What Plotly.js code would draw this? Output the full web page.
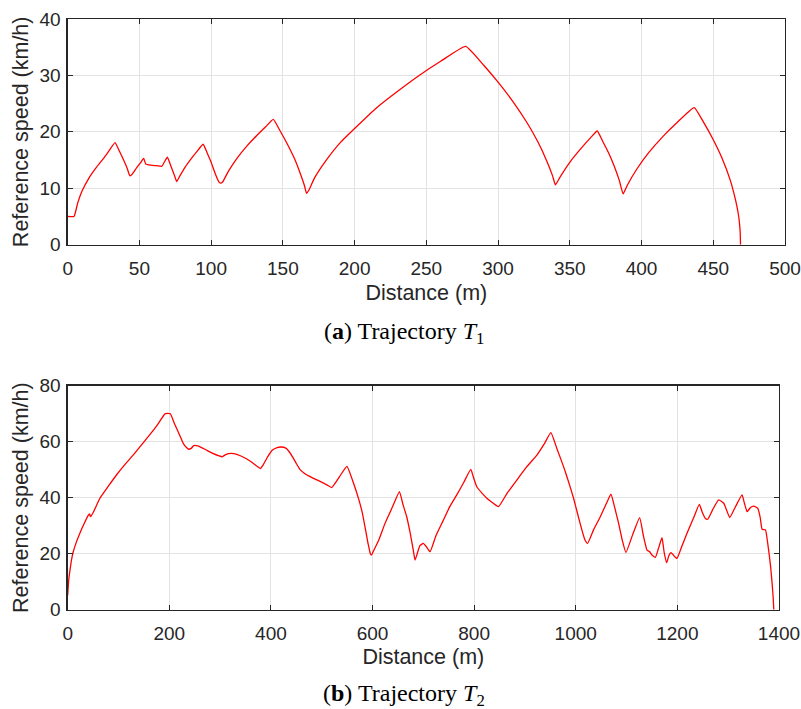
<!DOCTYPE html>
<html><head><meta charset="utf-8">
<script src="https://cdn.plot.ly/plotly-3.0.1.min.js"></script>
<style>html,body{margin:0;padding:0;background:#fff;}#chart{width:801px;height:709px;}</style>
</head><body><div id="chart"></div>
<script>
// Trajectory T1
const t1Distance = [0, 4.4, 7, 10, 15, 20, 25, 29, 33, 36, 39, 41.5, 42.8, 43.5, 45, 48, 51, 53, 54.4, 58, 62, 65.6, 67.5, 69.5, 72, 74.5, 76, 78, 82, 86, 90, 94.4, 97, 100, 103, 105.5, 106.7, 108, 112, 118, 125, 132, 138, 143.3, 148, 153, 158, 162, 165, 166.5, 168, 172, 180, 190, 200, 215, 230, 245, 260, 277.4, 290, 300, 310, 320, 328, 334, 338, 340, 343, 350, 358, 365, 369.1, 373, 377, 381, 384.5, 387.2, 390, 397, 405, 415, 425, 436.7, 443, 450, 456, 461.9, 464.5, 466.5, 467.8, 468.5, 468.8, 469];
const t1Speed = [5, 5, 7.4, 9.5, 11.9, 13.7, 15.3, 16.7, 18.08, 16.6, 15.0, 13.5, 12.5, 12.2, 12.5, 13.6, 14.6, 15.3, 14.3, 14.1, 14.0, 13.9, 14.7, 15.5, 13.9, 12.2, 11.2, 12.1, 13.8, 15.2, 16.5, 17.8, 16.4, 14.6, 12.5, 11.1, 10.9, 11.1, 13.0, 15.3, 17.5, 19.4, 20.9, 22.2, 20.2, 17.9, 15.3, 12.7, 10.5, 9.1, 9.6, 11.8, 14.9, 18.1, 20.6, 24.2, 27.2, 30.0, 32.5, 35.15, 31.8, 28.8, 25.5, 21.7, 18.1, 14.8, 12.2, 10.6, 11.9, 14.6, 17.1, 19.1, 20.15, 18.3, 16.3, 13.9, 11.4, 9.0, 10.5, 13.5, 16.3, 19.2, 21.7, 24.3, 21.8, 18.6, 15.4, 11.4, 9.0, 6.8, 4.9, 3.2, 2.0, 0];

// Trajectory T2
const t2Distance = [0, 2, 4.6, 8, 11, 16, 24, 32, 40.5, 43, 45, 50, 63.4, 80, 96, 112, 128.8, 145, 161.4, 177, 192, 202, 210, 220, 228, 233.3, 238, 243, 248, 256, 270, 285.6, 298, 304, 312, 321.6, 332.7, 351, 365, 379, 385, 395, 403, 412, 419.6, 429.4, 436, 442.5, 450, 457.5, 465, 475, 494.8, 510, 519.6, 535, 549.7, 562, 573.2, 580, 586.3, 591, 596, 598, 602, 612.4, 625, 640, 653, 660, 667.3, 674, 680, 683.7, 688, 693, 700, 706, 713.3, 725, 739.6, 752, 765.8, 780, 793.4, 800, 805.3, 815, 825, 837, 848, 865, 884, 903, 923.5, 938, 951, 963, 976, 986, 995.7, 1004, 1012, 1018, 1023.3, 1035, 1048.3, 1060, 1069.3, 1076, 1084.4, 1092, 1098.8, 1112, 1125.8, 1133, 1140.2, 1145.5, 1150, 1156.7, 1163, 1169.8, 1174, 1179, 1183, 1187.5, 1193, 1199.3, 1210, 1219, 1232, 1243.3, 1249, 1255.2, 1259.8, 1270, 1281.4, 1291.3, 1297, 1303.1, 1315, 1327.4, 1332, 1337.3, 1344, 1350.4, 1358.3, 1363, 1366.8, 1373.4, 1378, 1381.3, 1384, 1386.5, 1388.5, 1389.8];
const t2Speed = [5.1, 10.5, 14.2, 18.2, 20.7, 23.6, 27.3, 30.6, 33.7, 34.2, 33.2, 34.6, 39.8, 44.1, 48.1, 51.7, 55.2, 58.8, 62.4, 66.1, 70.0, 70.0, 66.5, 62.5, 59.2, 58.0, 57.3, 57.6, 58.6, 58.5, 57.3, 55.8, 54.9, 54.6, 55.5, 55.8, 55.5, 54.0, 52.3, 50.4, 51.8, 55.0, 57.0, 57.9, 58.1, 57.7, 56.4, 54.6, 52.2, 50.0, 48.8, 47.7, 46.0, 44.6, 43.6, 47.5, 51.2, 45.5, 39.2, 34.5, 28.5, 23.8, 19.8, 19.5, 21.0, 24.9, 31.0, 37.0, 42.2, 37.5, 33.2, 27.5, 21.5, 17.7, 20.0, 22.8, 23.7, 22.5, 20.7, 26.5, 32.0, 36.8, 41.0, 45.6, 50.1, 46.5, 43.9, 41.7, 39.8, 38.1, 36.8, 41.6, 46.3, 50.9, 55.2, 59.2, 63.2, 57.5, 51.1, 45.6, 39.8, 34.0, 28.5, 25.0, 23.7, 28.5, 33.2, 37.8, 41.3, 37.0, 30.8, 24.5, 20.4, 26.8, 32.9, 26.5, 21.3, 20.7, 19.5, 18.7, 22.0, 25.7, 20.5, 16.8, 19.2, 20.4, 19.3, 18.3, 23.2, 27.3, 32.8, 37.6, 34.8, 32.6, 32.3, 35.9, 39.2, 38.0, 35.5, 32.9, 37.0, 41.0, 38.0, 35.0, 36.5, 37.0, 36.2, 33.0, 28.7, 28.5, 23.5, 18.9, 14.5, 9.4, 4.5, 0];

const xTicks1 = [0, 50, 100, 150, 200, 250, 300, 350, 400, 450, 500];
const yTicks1 = [0, 10, 20, 30, 40];
const xTicks2 = [0, 200, 400, 600, 800, 1000, 1200, 1400];
const yTicks2 = [0, 20, 40, 60, 80];
const xLabel = 'Distance (m)';
const yLabel = 'Reference speed (km/h)';
const captionA = '(<b>a</b>) Trajectory <i>T</i><sub>1</sub>';
const captionB = '(<b>b</b>) Trajectory <i>T</i><sub>2</sub>';

const axisColor = '#262626';
const gridColor = '#e3e3e3';
const tickFont = {family: 'Liberation Sans, Arial, sans-serif', size: 19, color: axisColor};
const titleFont = {family: 'Liberation Sans, Arial, sans-serif', size: 21.5, color: axisColor};

function axis(extra) {
  return Object.assign({
    showline: true, linecolor: axisColor, linewidth: 1.2, mirror: 'ticks',
    ticks: 'inside', ticklen: 5, tickcolor: axisColor, tickwidth: 1,
    showgrid: true, gridcolor: gridColor, gridwidth: 1,
    zeroline: false, tickfont: tickFont, fixedrange: true
  }, extra);
}

const traces = [
  {x: t1Distance, y: t1Speed, type: 'scatter', mode: 'lines', line: {color: '#ff0000', width: 1.3, shape: 'spline', smoothing: 0.4}, xaxis: 'x', yaxis: 'y', showlegend: false, hoverinfo: 'skip'},
  {x: t2Distance, y: t2Speed, type: 'scatter', mode: 'lines', line: {color: '#ff0000', width: 1.3, shape: 'spline', smoothing: 0.4}, xaxis: 'x2', yaxis: 'y2', showlegend: false, hoverinfo: 'skip'}
];

const layout = {
  width: 801, height: 709,
  margin: {l: 0, r: 0, t: 0, b: 0},
  paper_bgcolor: '#ffffff', plot_bgcolor: '#ffffff',
  showlegend: false,
  xaxis: axis({domain: [0.0845, 0.980], range: [0, 500], tickvals: xTicks1, anchor: 'y', ticklabelstandoff: 6,
    title: {text: xLabel, font: titleFont, standoff: 7}}),
  yaxis: axis({domain: [0.6549, 0.9732], range: [0, 40], tickvals: yTicks1, anchor: 'x', ticklabelstandoff: 2,
    title: {text: yLabel, font: titleFont, standoff: 5}}),
  xaxis2: axis({domain: [0.0845, 0.9725], range: [0, 1400], tickvals: xTicks2, anchor: 'y2', ticklabelstandoff: 6,
    title: {text: xLabel, font: titleFont, standoff: 6}}),
  yaxis2: axis({domain: [0.1401, 0.4560], range: [0, 80], tickvals: yTicks2, anchor: 'x2', ticklabelstandoff: 2,
    title: {text: yLabel, font: titleFont, standoff: 5}}),
  annotations: [
    {text: captionA, xref: 'paper', yref: 'paper', x: 404/801, y: 1 - 333/709, xanchor: 'center', yanchor: 'middle', showarrow: false,
     font: {family: 'Liberation Serif, DejaVu Serif, serif', size: 24, color: '#000'}},
    {text: captionB, xref: 'paper', yref: 'paper', x: 404/801, y: 1 - 695/709, xanchor: 'center', yanchor: 'middle', showarrow: false,
     font: {family: 'Liberation Serif, DejaVu Serif, serif', size: 24, color: '#000'}}
  ]
};

Plotly.newPlot('chart', traces, layout, {displayModeBar: false, staticPlot: true});
</script>
</body></html>
